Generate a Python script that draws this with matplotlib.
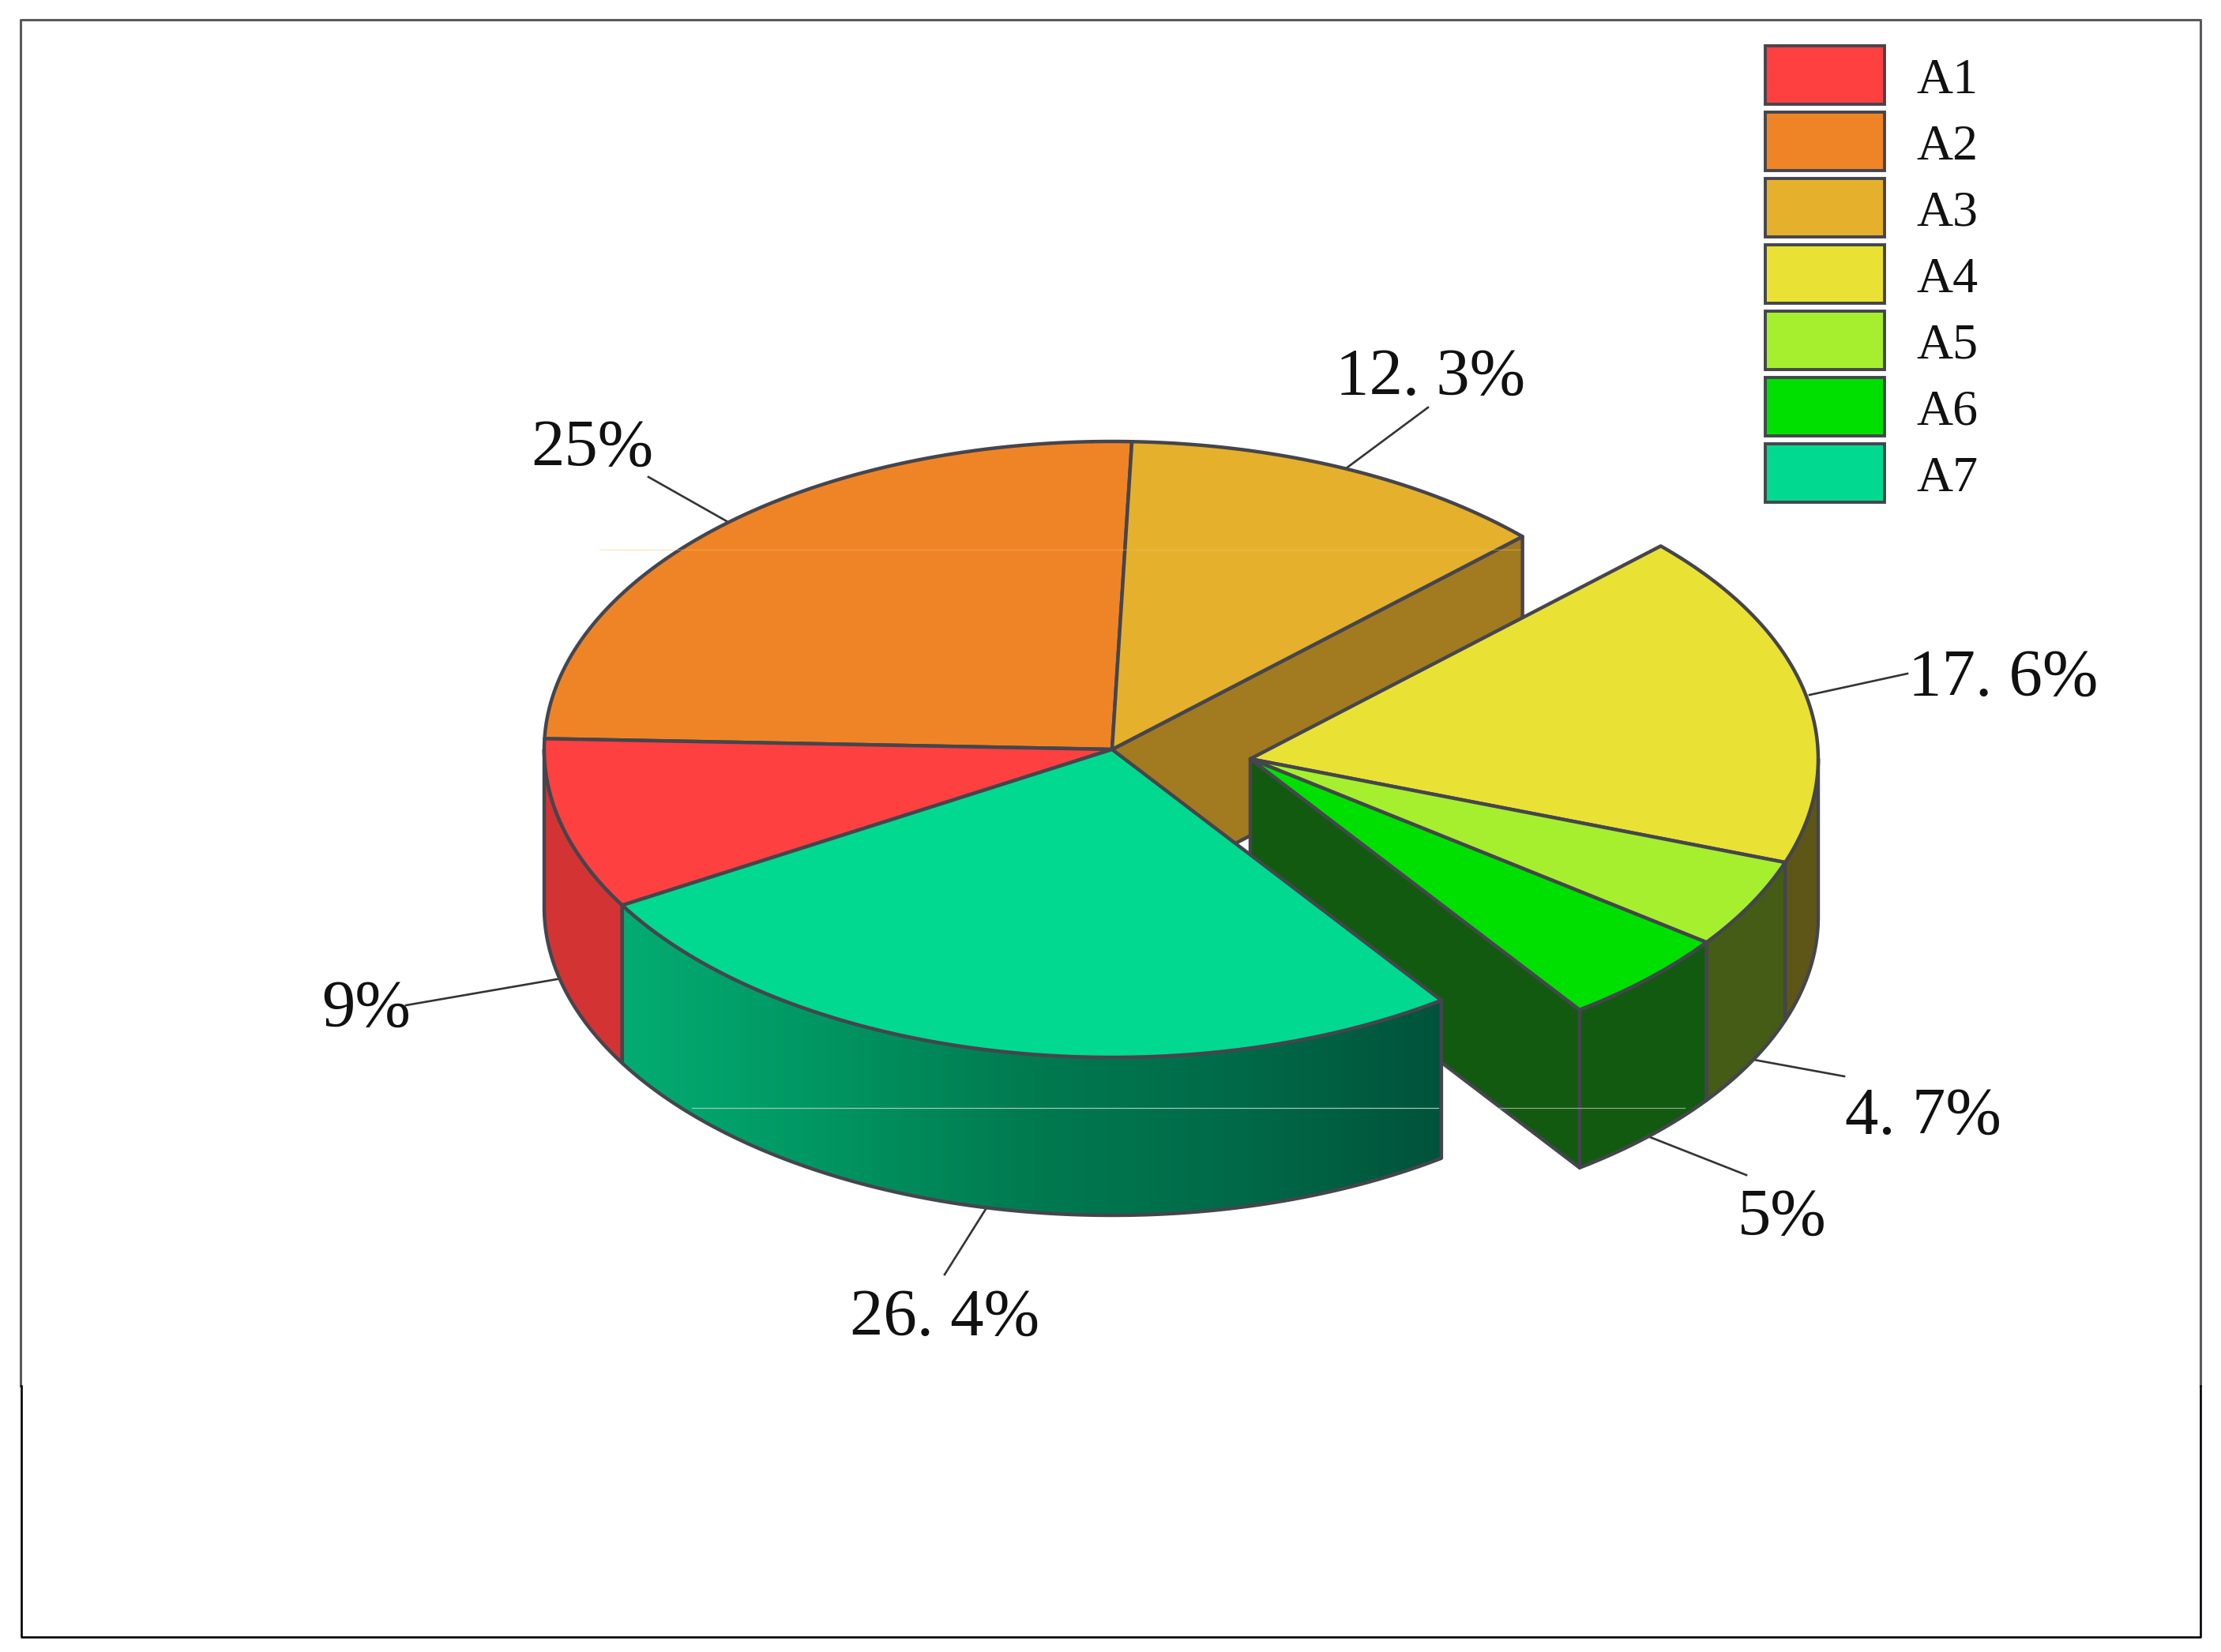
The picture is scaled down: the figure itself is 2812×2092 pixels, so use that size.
import numpy as np
import matplotlib
matplotlib.use("Agg")
import matplotlib.pyplot as plt
from matplotlib.colors import LinearSegmentedColormap
from matplotlib.patches import Polygon, Rectangle

# data
names = ["A1", "A2", "A3", "A4", "A5", "A6", "A7"]
shares = [9, 25, 12.3, 17.6, 4.7, 5, 26.4]
share_labels = ["9%", "25%", "12. 3%", "17. 6%", "4. 7%", "5%", "26. 4%"]
exploded = ["A4", "A5", "A6"]

top_colors = ["#FF4040", "#EF8427", "#E5B02C", "#E9E234", "#A5EF2F", "#00E000", "#00D98F"]
side_colors = ["#D43333", "#A27A1F", "#A27A1F", "#5E5616", "#445C16", "#125A10", "#125A10"]
edge = "#45454D"

plt.rcParams["font.family"] = ["Liberation Serif", "DejaVu Serif"]

fig = plt.figure(figsize=(28.12, 20.92), dpi=100)
ax = fig.add_axes([0, 0, 1, 1])

# pie geometry, in pixels of the picture
cx, cy = 1408, 949
rx, ry = 719, 390
depth = 200
shift_x, shift_y = 175, 12
lw = 3.2

# slices run clockwise from this angle, the ellipse parameter follows the share
start_angle = 210.4
cum = np.cumsum([0] + shares) * 3.6
t_from = dict(zip(names, start_angle - cum[:-1]))
t_to = dict(zip(names, start_angle - cum[1:]))


def rim(x0, y0, t0, t1, dy=0):
    t = np.radians(np.linspace(t0, t1, 160))
    return np.column_stack([x0 + rx * np.cos(t), y0 - ry * np.sin(t) + dy])


def top(x0, y0, t0, t1, color, z):
    pts = np.vstack([[x0, y0], rim(x0, y0, t0, t1)])
    ax.add_patch(Polygon(pts, closed=True, fc=color, ec=edge, lw=lw, joinstyle="round", zorder=z))


def side(x0, y0, t0, t1, color, z):
    pts = np.vstack([rim(x0, y0, t0, t1), rim(x0, y0, t1, t0, depth)])
    p = Polygon(pts, closed=True, fc=color, ec=edge, lw=lw, joinstyle="round", zorder=z)
    ax.add_patch(p)
    return p


def cut_face(x0, y0, t, color, z):
    a = np.radians(t)
    ex, ey = x0 + rx * np.cos(a), y0 - ry * np.sin(a)
    pts = [[x0, y0], [ex, ey], [ex, ey + depth], [x0, y0 + depth]]
    ax.add_patch(Polygon(pts, closed=True, fc=color, ec=edge, lw=lw, joinstyle="round", zorder=z))


# back part of the main pie
cut_face(cx, cy, t_to["A3"], side_colors[2], 1)
top(cx, cy, t_from["A2"], t_to["A2"], top_colors[1], 2)
top(cx, cy, t_from["A3"], t_to["A3"], top_colors[2], 2)
side(cx, cy, t_from["A1"], 180, side_colors[0], 2)
top(cx, cy, t_from["A1"], t_to["A1"], top_colors[0], 3)

# pulled out slices
ox, oy = cx + shift_x, cy + shift_y
cut_face(ox, oy, t_to["A6"], side_colors[5], 4)
side(ox, oy, 0, t_to["A4"], side_colors[3], 4)
side(ox, oy, t_from["A5"], t_to["A5"], side_colors[4], 4)
side(ox, oy, t_from["A6"], t_to["A6"], side_colors[5], 4)
for n in exploded:
    i = names.index(n)
    top(ox, oy, t_from[n], t_to[n], top_colors[i], 5)

# A7 sits in front of everything, its wall has a dark gradient
wall = side(cx, cy, t_from["A7"], t_to["A7"], "none", 7)
cmap = LinearSegmentedColormap.from_list("wall", ["#03AC72", "#009562", "#007A50", "#006A48", "#00533A"])
x_left = cx + rx * np.cos(np.radians(t_to["A7"]))
x_right = cx + rx * np.cos(np.radians(t_from["A7"]))
im = ax.imshow(np.linspace(0, 1, 256).reshape(1, -1), cmap=cmap, aspect="auto",
               extent=[x_left, x_right, cy + ry + depth, cy - ry], zorder=6)
im.set_clip_path(wall)
top(cx, cy, t_from["A7"], t_to["A7"], top_colors[6], 8)

# faint seams of the scan
ax.plot([876, 1821], [1403, 1403], color="#9FC9B8", lw=0.9, zorder=9)
ax.plot([1897, 2133], [1403, 1403], color="#8FA98A", lw=0.9, zorder=9)
ax.plot([760, 1925], [696, 696], color="#F4C06A", lw=0.7, alpha=0.5, zorder=9)

# leader lines and labels
leader_x = [[514, 711], [821, 920], [1703, 1808], [2291, 2415], [2215, 2335], [2084, 2211], [1250, 1196]]
leader_y = [[1273, 1239], [604, 660], [594, 516], [880, 853], [1341, 1363], [1438, 1488], [1528, 1614]]
label_x = [464, 750, 1811, 2536, 2435, 2256, 1196]
label_y = [1279, 569, 479, 860, 1415, 1543, 1670]
for i in range(len(names)):
    ax.plot(leader_x[i], leader_y[i], color="#333338", lw=1.9, zorder=1)
    ax.text(label_x[i], label_y[i], share_labels[i], fontsize=61, color="#111111",
            ha="center", va="center", zorder=10)

# legend
for i, n in enumerate(names):
    y = 58 + i * 84
    ax.add_patch(Rectangle((2235, y), 151, 74, fc=top_colors[i], ec=edge, lw=2.8, zorder=3))
    ax.text(2426, y + 45, n, fontsize=46, color="#111111", ha="left", va="center", zorder=3)

# outer frame, grey above the seam and black below it
ax.plot([26, 26, 2786, 2786], [1755, 25, 25, 1755], color="#5A5A5A", lw=2.2, zorder=0)
ax.plot([27, 27, 2786, 2786], [1755, 2073, 2073, 1755], color="#000000", lw=1.9, zorder=0)

ax.set_xlim(0, 2812)
ax.set_ylim(2092, 0)
ax.axis("off")

fig.savefig("out.png", dpi=100, facecolor="white")
